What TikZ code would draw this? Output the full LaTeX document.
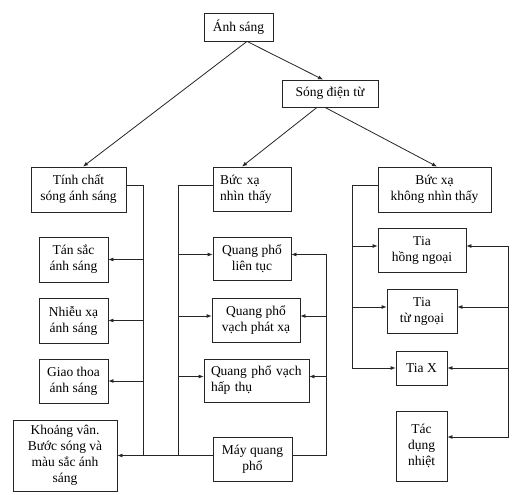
\documentclass[tikz,border=0pt]{standalone}
\usepackage{fontspec}
\setmainfont{Liberation Serif}
\usepackage{tikz}
\usetikzlibrary{positioning}
\usetikzlibrary{arrows.meta}

\begin{document}
\begin{tikzpicture}[
    x=1pt, y=1pt,
    box/.style={
        draw=black!85, line width=0.8pt, align=center, inner sep=2pt,
        font=\fontsize{13.5}{16}\selectfont
    },
    lbox/.style={
        box, align=left, inner sep=7pt
    },
    wire/.style={line width=0.8pt, draw=black!85},
    arr/.style={wire, -{Latex[length=5pt,width=4pt]}},
]

\useasboundingbox[fill=white] (0,0) rectangle (515,-495);

% Top
\node[box, minimum width=69, minimum height=28] (anh)  at (238.5,-27)  {Ánh sáng};
\node[box, minimum width=96, minimum height=27] (song) at (330,-93.5)  {Sóng điện từ};

% Second row
\node[box, minimum width=95, minimum height=45] (tinhchat) at (78.5,-189.5) {Tính chất\\sóng ánh sáng};
\node[lbox, text width=64, minimum height=44]   (nhin)     at (252,-189)    {Bức xạ\\nhìn thấy};
\node[box, minimum width=113, minimum height=45] (khong)   at (434.5,-189.5) {Bức xạ\\không nhìn thấy};

% Wave properties
\node[box, minimum width=69, minimum height=45]  (tansac) at (73.5,-259.5) {Tán sắc\\ánh sáng};
\node[box, minimum width=69, minimum height=45]  (nhieu)  at (73.5,-320.5) {Nhiễu xạ\\ánh sáng};
\node[box, minimum width=69, minimum height=44]  (giao)   at (73.5,-381)   {Giao thoa\\ánh sáng};
\node[box, minimum width=104, minimum height=71] (khoang) at (65,-455.5)   {Khoảng vân.\\Bước sóng và\\màu sắc ánh\\sáng};

% Spectra
\node[box, minimum width=78, minimum height=43] (lientuc) at (252,-258.5)  {Quang phổ\\liên tục};
\node[box, minimum width=88, minimum height=44] (phatxa)  at (256,-320)    {Quang phổ\\vạch phát xạ};
\node[lbox, text width=91, minimum height=43]   (hapthu)  at (256.5,-380.5) {Quang phổ vạch\\hấp thụ};
\node[box, minimum width=79, minimum height=44] (may)     at (252.5,-459)  {Máy quang\\phổ};

% Invisible radiation
\node[box, minimum width=88, minimum height=44] (hong)  at (422,-250)   {Tia\\hồng ngoại};
\node[box, minimum width=70, minimum height=44] (tu)    at (422,-311)   {Tia\\từ ngoại};
\node[box, minimum width=51, minimum height=34] (tiax)  at (421.5,-368) {Tia X};
\node[box, minimum width=51, minimum height=70] (nhiet) at (421.5,-446) {Tác\\dụng\\nhiệt};

% Bus lines
\coordinate (lb) at (143,-455);
\coordinate (mb) at (178,-455);
\coordinate (rb) at (326,-455);
\coordinate (rl) at (352,-368);
\coordinate (rr) at (508,-246);

% Tree
\draw[arr] ([xshift=8.5pt]anh.south) -- ([xshift=4.5pt]tinhchat.north);
\draw[arr] ([xshift=8.5pt]anh.south) -- ([xshift=-7pt]song.north);
\draw[arr] ([xshift=-13pt]song.south) -- ([xshift=-10pt]nhin.north);
\draw[arr] ([xshift=-5pt]song.south) -- ([xshift=2.5pt]khong.north);

% Left column
\draw[wire] ([yshift=4pt]tinhchat.east) -| (lb);
\draw[arr] (lb |- tansac) -- (tansac.east);
\draw[arr] (lb |- nhieu) -- (nhieu.east);
\draw[arr] (lb |- giao) -- (giao.east);
\draw[arr] (may.west |- khoang) -- (khoang.east);

% Middle column
\draw[wire] ([yshift=4pt]nhin.west) -| (mb);
\draw[arr] ([yshift=4pt]mb |- lientuc) -- ([yshift=4pt]lientuc.west);
\draw[arr] ([yshift=4pt]mb |- phatxa) -- ([yshift=4pt]phatxa.west);
\draw[arr] ([yshift=4pt]mb |- hapthu) -- ([yshift=4pt]hapthu.west);
\draw[arr] (may.east |- khoang) -| ([yshift=4pt]rb |- lientuc) -- ([yshift=4pt]lientuc.east);
\draw[arr] ([yshift=4pt]rb |- phatxa) -- ([yshift=4pt]phatxa.east);
\draw[arr] ([yshift=4pt]rb |- hapthu) -- ([yshift=4pt]hapthu.east);

% Right column
\draw[arr] ([yshift=4pt]khong.west) -| (rl) -- (tiax.west);
\draw[arr] ([yshift=4pt]rl |- hong) -- ([yshift=4pt]hong.west);
\draw[arr] ([yshift=4pt]rl |- tu) -- ([yshift=4pt]tu.west);
\draw[arr] (rr) -- ([yshift=4pt]hong.east);
\draw[arr] (rr) |- ([yshift=9pt]nhiet.east);
\draw[arr] ([yshift=4pt]rr |- tu) -- ([yshift=4pt]tu.east);
\draw[arr] (rr |- tiax) -- (tiax.east);

\end{tikzpicture}
\end{document}
